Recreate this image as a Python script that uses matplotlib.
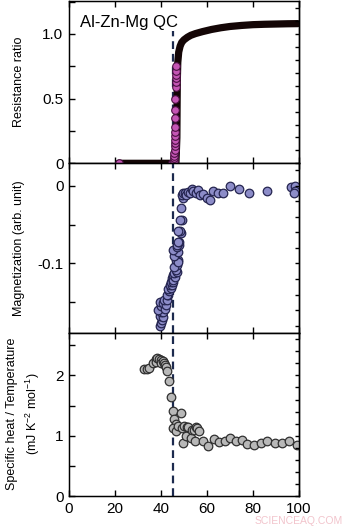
import numpy as np
import matplotlib; matplotlib.use("Agg")
import matplotlib.pyplot as plt
from matplotlib.ticker import MultipleLocator, NullLocator

plt.rcParams["font.family"] = ["Liberation Sans", "DejaVu Sans"]
plt.rcParams["mathtext.fontset"] = "custom"
plt.rcParams["mathtext.rm"] = "Liberation Sans"
plt.rcParams["axes.unicode_minus"] = False

# ---- resistance ratio (top) ----
res_x = [21.5, 25, 30, 35, 40, 44, 46.5, 46.9, 47.0, 47.1, 47.3, 47.7, 48.3, 49.0, 50.0, 51.5,
         53, 55, 58, 62, 66, 70, 75, 80, 85, 90, 95, 99.5]
res_y = [0, 0, 0, 0, 0, 0, 0.005, 0.2, 0.45, 0.65, 0.78, 0.86, 0.905, 0.935, 0.955, 0.975,
         0.99, 1.003, 1.018, 1.035, 1.048, 1.058, 1.066, 1.072, 1.075, 1.077, 1.079, 1.08]
tr_x = [21.7, 44.8, 45.6, 45.7, 45.8, 45.8, 45.9, 45.9, 46.0, 46.0, 46.1, 46.1, 46.2, 46.2,
        46.3, 46.3, 46.4, 46.4, 46.5, 46.5, 46.6, 46.6]
tr_y = [0, 0.0, 0.02, 0.04, 0.06, 0.08, 0.10, 0.13, 0.155, 0.18, 0.21, 0.24, 0.28, 0.35,
        0.41, 0.50, 0.59, 0.63, 0.66, 0.68, 0.71, 0.75]

# ---- magnetization (middle) ----
mag_x = [39.6, 39.9, 40.3, 39.4, 40.7, 39.8, 41.0, 38.9, 40.2, 41.7, 39.6, 40.8, 42.2, 41.5, 42.5,
         43.2, 42.6, 43.6, 43.1, 44.2, 43.8, 44.6, 44.3, 45.0, 44.6, 45.4, 45.0, 46.1, 45.7, 47.1,
         46.5, 46.8, 45.5, 47.2, 46.5, 47.5, 45.7, 47.5, 45.1, 46.8, 47.8, 46.8, 47.8, 47.5, 48.6,
         48.3, 47.5, 49.0, 48.3, 48.6, 49.4, 49.0, 49.7, 50.4, 50.9, 51.9, 52.8, 53.5, 54.0, 55.2,
         56.2, 57.0, 58.4, 59.9, 61.3, 62.7, 64.9, 67.1, 70.0, 74.1, 78.4, 86.2, 96.4, 98.3, 98.3, 97.8]
mag_y = [-0.181, -0.177, -0.173, -0.168, -0.169, -0.163, -0.162, -0.160, -0.155, -0.158, -0.150,
         -0.151, -0.154, -0.147, -0.147, -0.141, -0.140, -0.136, -0.133, -0.132, -0.128, -0.128,
         -0.124, -0.124, -0.119, -0.121, -0.115, -0.117, -0.112, -0.111, -0.108, -0.102, -0.105,
         -0.096, -0.096, -0.098, -0.091, -0.085, -0.083, -0.079, -0.076, -0.076, -0.072, -0.072,
         -0.061, -0.058, -0.058, -0.044, -0.044, -0.029, -0.016, -0.012, -0.0098, -0.0098, -0.012,
         -0.0077, -0.010, -0.004, -0.0064, -0.009, -0.0055, -0.012, -0.0107, -0.016, -0.018, -0.0064,
         -0.0098, -0.009, -0.0004, -0.0039, -0.009, -0.0064, -0.002, -0.001, -0.0064, -0.009]

# ---- specific heat / T (bottom) ----
sh_x = [32.6, 33.8, 34.8, 36.7, 37.7, 38.0, 38.4, 39.3, 39.8, 40.0, 40.7, 41.3, 41.8, 42.0, 42.8,
        43.5, 44.2, 45.1, 45.7, 46.5, 45.1, 46.5, 47.5, 48.6, 49.0, 50.0, 51.2, 49.7, 50.9, 51.9,
        52.9, 53.3, 54.3, 55.2, 54.8, 55.8, 56.7, 58.4, 60.6, 63.0, 65.4, 67.8, 70.0, 72.6, 75.1,
        77.5, 80.4, 83.3, 86.2, 89.6, 92.5, 95.8, 99.0]
sh_y = [2.10, 2.10, 2.13, 2.20, 2.27, 2.22, 2.29, 2.28, 2.25, 2.20, 2.24, 2.20, 2.18, 2.14, 2.07,
        1.90, 1.64, 1.41, 1.27, 1.19, 1.12, 1.07, 1.16, 1.38, 1.12, 1.16, 1.15, 0.88, 1.00, 1.15,
        0.96, 1.09, 1.09, 1.15, 0.92, 1.12, 1.07, 0.92, 0.83, 0.94, 0.90, 0.92, 0.96, 0.92, 0.93,
        0.86, 0.85, 0.88, 0.92, 0.88, 0.88, 0.92, 0.85]

T_C = 45

fig = plt.figure(figsize=(3.56, 5.30), dpi=100)
L, W = 69 / 356, 230 / 356
ax1 = fig.add_axes([L, 1 - 163.3 / 530, W, 162.3 / 530])
ax2 = fig.add_axes([L, 1 - 332.7 / 530, W, 169.4 / 530])
ax3 = fig.add_axes([L, 1 - 496 / 530, W, 163.3 / 530])

def style(ax, ylim, major, minor_l, minor_r, last=False):
    ax.set_xlim(0, 100); ax.set_ylim(*ylim)
    ax.xaxis.set_major_locator(MultipleLocator(20))
    ax.yaxis.set_major_locator(MultipleLocator(major))
    ax.yaxis.set_minor_locator(MultipleLocator(minor_l))
    ax.tick_params(which="both", direction="in", length=4, width=1, top=True, right=False,
                   labelsize=11, pad=4, labelbottom=last)
    for s in ax.spines.values(): s.set_linewidth(1)
    tw = ax.twinx(); tw.set_ylim(*ylim)
    tw.yaxis.set_major_locator(MultipleLocator(minor_r)); tw.yaxis.set_minor_locator(NullLocator())
    tw.tick_params(direction="in", length=3, width=1, labelright=False)
    tw.spines["right"].set_linewidth(1)

style(ax1, (0, 1.255), 0.5, 0.25, 0.1)
style(ax2, (-0.189, 0.0288), 0.1, 0.05, 0.02)
style(ax3, (0, 2.708), 1, 0.5, 0.2, last=True)
ax1.set_yticks([0, 0.5, 1.0], ["0", "0.5", "1.0"])
ax2.set_yticks([-0.1, 0], ["-0.1", "0"])
ax3.set_yticks([0, 1, 2], ["0", "1", "2"])

ax1.plot(res_x, res_y, color="#140606", lw=5.2, solid_capstyle="round", solid_joinstyle="round", zorder=3)
ax1.scatter(tr_x, tr_y, s=30, facecolor="#c455b4", edgecolor="#4a1040", lw=0.8, zorder=4)
ax2.scatter(mag_x, mag_y, s=38, facecolor="#8c8cc8", edgecolor="#252550", lw=0.9, zorder=4)
ax3.scatter(sh_x, sh_y, s=38, facecolor="#b8b8b8", edgecolor="#303030", lw=0.9, zorder=4)

dash = dict(color="#1c2a4e", lw=1.6, dashes=(3.5, 2.2), zorder=2)
ax1.plot([T_C, T_C], [0, 1.02], **dash)
ax2.axvline(T_C, **dash)
ax3.axvline(T_C, **dash)

ax1.text(0.048, 0.87, "Al-Zn-Mg QC", transform=ax1.transAxes, fontsize=12, va="center", ha="left")
fig.text(19 / 356, 1 - 82 / 530, "Resistance ratio", rotation=90, ha="center", va="center", fontsize=9)
fig.text(19 / 356, 1 - 248 / 530, "Magnetization (arb. unit)", rotation=90, ha="center", va="center", fontsize=9)
fig.text(12 / 356, 1 - 414 / 530, "Specific heat / Temperature", rotation=90, ha="center", va="center", fontsize=9)
fig.text(33 / 356, 1 - 414 / 530, r"(mJ K$\mathregular{^{-2}}$ mol$\mathregular{^{-1}}$)", rotation=90,
         ha="center", va="center", fontsize=9)
fig.text(299 / 356, 1 - 521 / 530, "SCIENCEAQ.COM", color="#f2c4cc", fontsize=7.5, ha="center", va="center")

fig.savefig("out.png", dpi=100)
